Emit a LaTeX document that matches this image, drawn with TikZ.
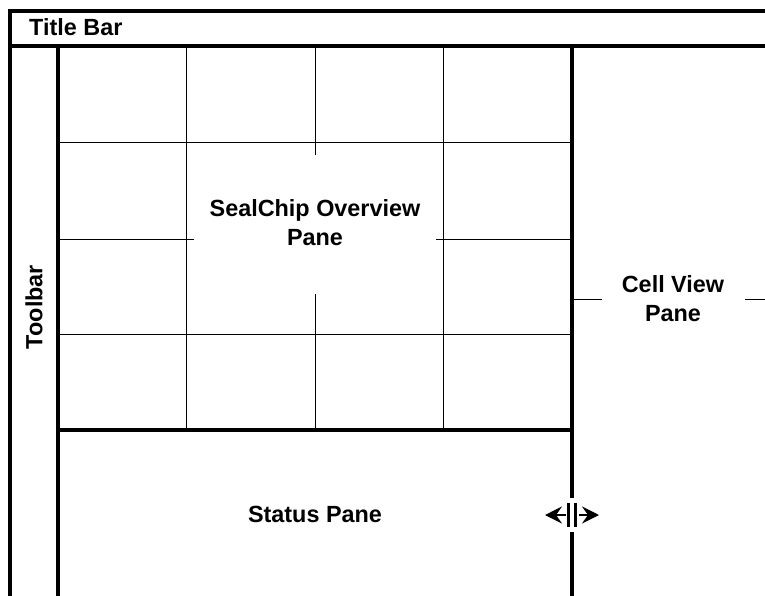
\documentclass[tikz,border=0pt]{standalone}
\usepackage{fontspec}
\setmainfont{Liberation Sans}
\usetikzlibrary{arrows.meta}
\begin{document}
\begin{tikzpicture}[x=1pt,y=-1pt,
  thick line/.style={line width=3.8pt},
  thin line/.style={line width=1pt},
  lbl/.style={font=\bfseries\fontsize{23.4}{29}\selectfont, align=center, inner sep=0pt}]
\useasboundingbox (0,0) rectangle (765,596);
\fill[white] (0,0) rectangle (765,596);
% outer frame / title bar
\draw[thick line] (10,596) -- (10,11) -- (765,11);
\draw[thick line] (10,46) -- (765,46);
% toolbar edge
\draw[thick line] (58,46) -- (58,596);
% splitter line
\draw[thick line] (572,46) -- (572,498);
\draw[thick line] (572,532) -- (572,596);
% status separator
\draw[thick line] (58,430) -- (572,430);
% grid
\draw[thin line] (186,46) -- (186,430);
\draw[thin line] (443,46) -- (443,430);
\draw[thin line] (315,46) -- (315,155);
\draw[thin line] (315,294) -- (315,430);
\draw[thin line] (58,143) -- (572,143);
\draw[thin line] (58,334) -- (572,334);
\draw[thin line] (58,239) -- (194,239);
\draw[thin line] (436,239) -- (572,239);
% cell view lines
\draw[thin line] (572,299) -- (602,299);
\draw[thin line] (745,299) -- (765,299);
% resize cursor
\draw[line width=1.6pt, {Stealth[length=17pt,width=17pt,inset=6pt]}-{Stealth[length=17pt,width=17pt,inset=6pt]}] (545,515) -- (599,515);
\fill[white] (565.5,501) rectangle (578.5,529);
\draw[line width=3pt] (568.5,503) -- (568.5,527);
\draw[line width=3pt] (575.5,503) -- (575.5,527);
% labels
\node[lbl, anchor=west] (title) at (29,27.5) {Title Bar};
\node[lbl, rotate=90] (toolbar) at (34,307) {Toolbar};
\node[lbl] (overview) at (315,223) {SealChip Overview\\Pane};
\node[lbl] (cellview) at (673,299) {Cell View\\Pane};
\node[lbl] (status) at (315,514) {Status Pane};
\end{tikzpicture}
\end{document}
